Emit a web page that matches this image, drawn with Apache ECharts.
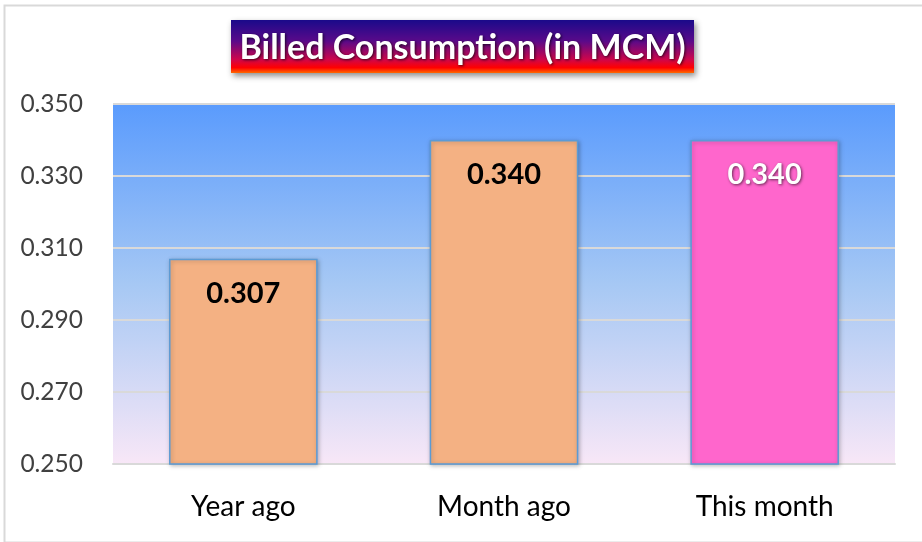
<!DOCTYPE html>
<html><head><meta charset="utf-8">
<script src="https://cdn.jsdelivr.net/npm/echarts@6/dist/echarts.min.js"></script>
<style>html,body{margin:0;padding:0;background:#fff;}#c{width:922px;height:542px;}</style>
</head><body><div id="c"></div>
<script>
const categories = ['Year ago', 'Month ago', 'This month'];
const values = [0.307, 0.340, 0.340];
const barColors = ['#f4b183', '#f4b183', '#ff66cc'];
const yTicks = [0.250, 0.270, 0.290, 0.310, 0.330, 0.350];
const titleText = 'Billed Consumption (in MCM)';

const chart = echarts.init(document.getElementById('c'), null, {renderer: 'canvas'});
const font = 'Lato, "Open Sans", sans-serif';
chart.setOption({
  animation: false,
  backgroundColor: '#ffffff',
  grid: {
    left: 113, right: 27, top: 104, bottom: 78, show: true, borderWidth: 0,
    backgroundColor: new echarts.graphic.LinearGradient(0, 0, 0, 1, [
      {offset: 0, color: '#5a9bfd'},
      {offset: 0.5, color: '#a6c8f4'},
      {offset: 1, color: '#f8e7f7'}
    ])
  },
  xAxis: {
    type: 'category', data: categories,
    axisLine: {show: true, lineStyle: {color: '#d9d9d9', width: 2}},
    axisTick: {show: false},
    axisLabel: {color: '#000', fontSize: 28, fontFamily: font, margin: 29}
  },
  yAxis: {
    type: 'value', min: yTicks[0], max: yTicks[yTicks.length - 1], interval: 0.02,
    axisLine: {show: false}, axisTick: {show: false},
    axisLabel: {color: '#404040', fontSize: 24.5, fontFamily: font, margin: 30,
      formatter: v => v.toFixed(3)},
    splitLine: {lineStyle: {color: '#d9d9d9', width: 2}}
  },
  series: [{
    type: 'bar', barWidth: '57%',
    data: values.map((v, i) => ({
      value: v,
      itemStyle: {color: barColors[i]},
      label: i === 2 ? {color: '#fff', textShadowColor: 'rgba(0,0,0,0.6)', textShadowBlur: 3, textShadowOffsetX: 1, textShadowOffsetY: 1} : {}
    })),
    itemStyle: {borderColor: '#5b9bd5', borderWidth: 1.5, shadowColor: 'rgba(0,0,0,0.25)', shadowBlur: 4, shadowOffsetX: 1, shadowOffsetY: 1},
    label: {show: true, position: 'insideTop', distance: 20, fontSize: 29, fontWeight: 'bold',
      fontFamily: font, color: '#000', formatter: p => p.value.toFixed(3)}
  }],
  graphic: [
    {type: 'rect', left: 2, top: 3, silent: true, z: -10,
      shape: {width: 940, height: 537},
      style: {fill: 'none', stroke: '#d9d9d9', lineWidth: 2}},
    {type: 'group', left: 231, top: 20, children: [
      {type: 'rect', shape: {x: 0, y: 0, width: 463, height: 53},
        style: {
          fill: new echarts.graphic.LinearGradient(0, 0, 0, 1, [
            {offset: 0, color: '#1a0a8a'},
            {offset: 0.4, color: '#5a0a8a'},
            {offset: 0.75, color: '#d0064a'},
            {offset: 0.9, color: '#ff0000'},
            {offset: 1, color: '#ff6a00'}
          ]),
          shadowColor: 'rgba(0,0,0,0.45)', shadowBlur: 6, shadowOffsetX: 2, shadowOffsetY: 3
        }},
      {type: 'text', x: 231.5, y: 28,
        style: {text: titleText, fill: '#fff', font: 'bold 34px ' + font,
          textAlign: 'center', textVerticalAlign: 'middle',
          textShadowColor: 'rgba(0,0,0,0.7)', textShadowBlur: 3, textShadowOffsetX: 1, textShadowOffsetY: 1}}
    ]}
  ]
});
</script></body></html>
